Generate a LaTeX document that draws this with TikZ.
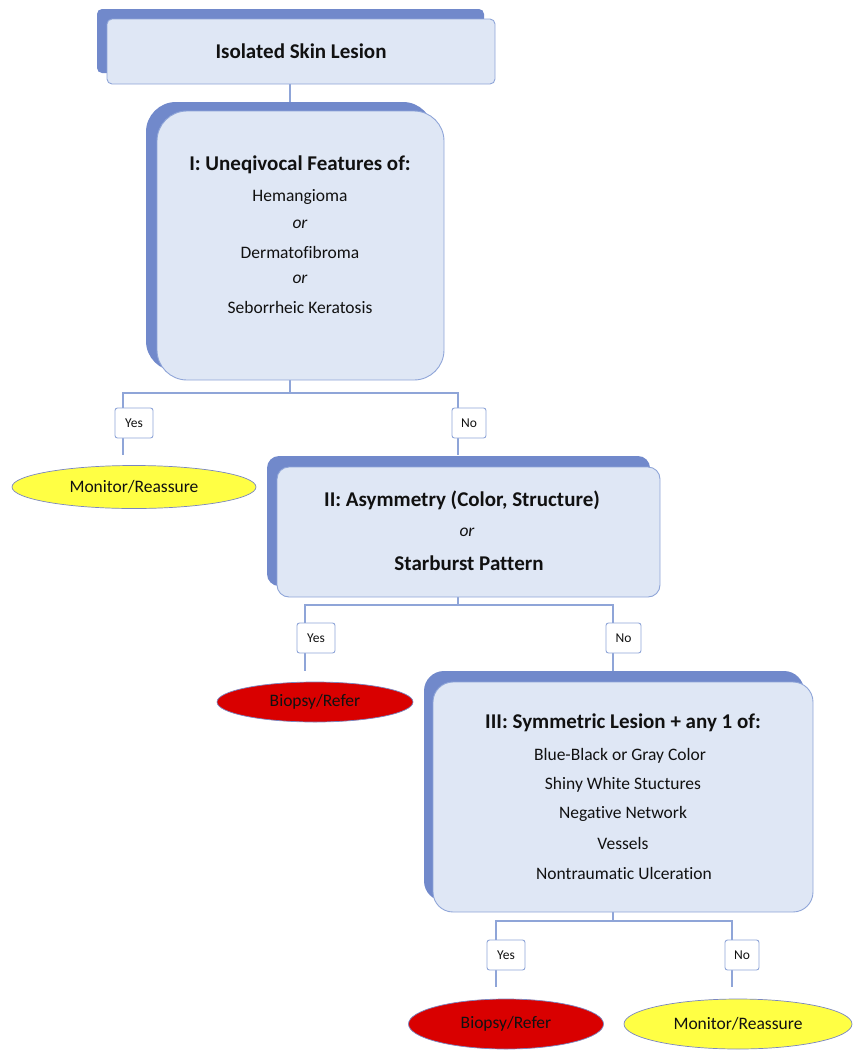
\documentclass[tikz,border=0pt]{standalone}
\usepackage{fontspec}
\setmainfont[Ligatures=NoCommon]{Carlito}
\usetikzlibrary{shapes.geometric}
\definecolor{boxfill}{HTML}{DFE7F5}
\definecolor{boxline}{HTML}{8FA5D8}
\definecolor{shadowc}{HTML}{7189CB}
\definecolor{ovalline}{HTML}{7A86C0}
\definecolor{yel}{HTML}{FFFF44}
\definecolor{redc}{HTML}{D90000}
\definecolor{txt}{HTML}{111111}
\pgfdeclarelayer{bg}\pgfsetlayers{bg,main}
\begin{document}
\begin{tikzpicture}[x=1pt,y=-1pt,
  front/.style={draw=boxline, fill=boxfill, line width=0.9pt, inner sep=0pt},
  shade/.style={fill=shadowc, draw=none, inner sep=0pt},
  lbl/.style={draw=boxline, fill=white, rounded corners=2.5pt, line width=0.9pt, inner sep=0pt, text=txt, font=\fontsize{13.5}{16}\selectfont},
  oval/.style={ellipse, draw=ovalline, line width=0.7pt, inner sep=0pt, text=txt, font=\fontsize{17.5}{21}\selectfont},
  conn/.style={draw=boxline, line width=1.2pt},
  hd/.style={font=\bfseries\fontsize{21}{25}\selectfont, inner sep=0pt, text=txt},
  bd/.style={font=\fontsize{17.5}{21}\selectfont, inner sep=0pt, text=txt},
  bi/.style={font=\itshape\fontsize{17.5}{21}\selectfont, inner sep=0pt, text=txt}]
\useasboundingbox (0,0) rectangle (852,1050);

% top box
\node[shade, rounded corners=5pt, minimum width=387pt, minimum height=64pt] (topS) at (290.5,41) {};
\node[front, rounded corners=5pt, minimum width=388pt, minimum height=65pt, hd] (top) at (301,51.5) {Isolated Skin Lesion};

% box I
\node[shade, rounded corners=30pt, minimum width=287pt, minimum height=269pt] (b1S) at (289.5,236.5) {};
\node[front, rounded corners=30pt, minimum width=287pt, minimum height=269pt] (b1) at (300.5,245.5) {};
\node[hd] (b1h) at (300,165) {I: Uneqivocal Features of:};
\node[bd] (b1a) at (300,197) {Hemangioma};
\node[bi] (b1o1) at (300,224) {or};
\node[bd] (b1b) at (300,252) {Dermatofibroma};
\node[bi] (b1o2) at (300,279) {or};
\node[bd] (b1c) at (300,307) {Seborrheic Keratosis};

% box II
\node[shade, rounded corners=12pt, minimum width=383pt, minimum height=130pt] (b2S) at (458.5,521) {};
\node[front, rounded corners=12pt, minimum width=383pt, minimum height=130pt] (b2) at (468.5,532) {};
\node[hd] (b2h) at (462,500) {II: Asymmetry (Color, Structure)};
\node[bi] (b2o) at (467,532) {or};
\node[hd] (b2b) at (469,563) {Starburst Pattern};

% box III
\node[shade, rounded corners=20pt, minimum width=380pt, minimum height=230pt] (b3S) at (614,786) {};
\node[front, rounded corners=20pt, minimum width=380pt, minimum height=230pt] (b3) at (623,797) {};
\node[hd] (b3h) at (623,723) {III: Symmetric Lesion + any 1 of:};
\node[bd] (b3a) at (620,756) {Blue-Black or Gray Color};
\node[bd] (b3b) at (623,785) {Shiny White Stuctures};
\node[bd] (b3c) at (623,814) {Negative Network};
\node[bd] (b3d) at (623,843) {Vessels};
\node[bd] (b3e) at (624,873) {Nontraumatic Ulceration};

% labels
\node[lbl, minimum width=38pt, minimum height=30pt] (yes1) at (134,423) {Yes};
\node[lbl, minimum width=34pt, minimum height=30pt] (no1) at (469,423) {No};
\node[lbl, minimum width=38pt, minimum height=30pt] (yes2) at (316,638) {Yes};
\node[lbl, minimum width=35pt, minimum height=30pt] (no2) at (623.5,638) {No};
\node[lbl, minimum width=38pt, minimum height=30pt] (yes3) at (506,955) {Yes};
\node[lbl, minimum width=34pt, minimum height=30pt] (no3) at (742,955) {No};

% outcomes
\node[oval, fill=yel, minimum width=244pt, minimum height=43pt] (o1) at (134,487) {Monitor/Reassure};
\node[oval, fill=redc, minimum width=196pt, minimum height=40pt] (o2) at (315,702) {Biopsy/Refer};
\node[oval, fill=redc, minimum width=195pt, minimum height=50pt] (o3) at (506,1024) {Biopsy/Refer};
\node[oval, fill=yel, minimum width=228pt, minimum height=50pt] (o4) at (738,1024) {Monitor/Reassure};

% connectors
\coordinate (t0) at (290,0);
\coordinate (j1) at (290,393); \coordinate (j1L) at (123,393); \coordinate (j1R) at (458,393);
\coordinate (e1) at (123,455); \coordinate (e2) at (458,455);
\coordinate (j2) at (458,605); \coordinate (j2L) at (305,605); \coordinate (j2R) at (613,605);
\coordinate (e3) at (305,671); \coordinate (e4) at (613,671);
\coordinate (j3) at (613,921); \coordinate (j3L) at (496,921); \coordinate (j3R) at (732,921);
\coordinate (e5) at (496,987); \coordinate (e6) at (732,987);

\begin{pgfonlayer}{bg}
\draw[conn] (top.south -| t0) -- (b1.north -| t0);
\draw[conn] (b1.south -| j1) -- (j1);
\draw[conn] (yes1.north -| j1L) -- (j1L) -- (j1R) -- (no1.north -| j1R);
\draw[conn] (yes1.south -| j1L) -- (e1);
\draw[conn] (no1.south -| j1R) -- (e2);
\draw[conn] (b2.south -| j2) -- (j2);
\draw[conn] (yes2.north -| j2L) -- (j2L) -- (j2R) -- (no2.north -| j2R);
\draw[conn] (yes2.south -| j2L) -- (e3);
\draw[conn] (no2.south -| j2R) -- (e4);
\draw[conn] (b3.south -| j3) -- (j3);
\draw[conn] (yes3.north -| j3L) -- (j3L) -- (j3R) -- (no3.north -| j3R);
\draw[conn] (yes3.south -| j3L) -- (e5);
\draw[conn] (no3.south -| j3R) -- (e6);
\end{pgfonlayer}
\end{tikzpicture}
\end{document}
